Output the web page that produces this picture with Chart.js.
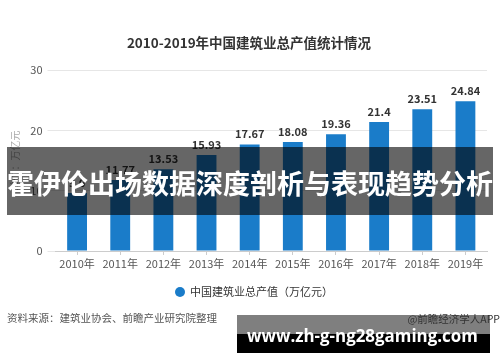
<!DOCTYPE html>
<html>
<head>
<meta charset="utf-8">
<script src="https://cdn.jsdelivr.net/npm/chart.js@4/dist/chart.umd.min.js"></script>
<style>
  html, body { margin: 0; padding: 0; background: #fff; }
  #wrap { width: 500px; height: 362px; position: relative; }
</style>
</head>
<body>
<div id="wrap"><canvas id="chart"></canvas></div>
<script>
// chart data
const years = ['2010年', '2011年', '2012年', '2013年', '2014年', '2015年', '2016年', '2017年', '2018年', '2019年'];
const output = [9.6, 11.77, 13.53, 15.93, 17.67, 18.08, 19.36, 21.4, 23.51, 24.84];
const yTicks = [0, 10, 20, 30];

const FONT = '"Noto Sans CJK SC", "Noto Sans", sans-serif';
const BLUE = '#1a7cc9';

// draw text squeezed to a target width
function fitText(ctx, text, x, y, weight, family, width) {
  ctx.font = weight + ' 20px ' + family;
  const size = 20 * width / ctx.measureText(text).width;
  ctx.font = weight + ' ' + size.toFixed(2) + 'px ' + family;
  ctx.fillText(text, x, y);
}

// value labels, title, legend, source text and the overlays
const decorations = {
  id: 'decorations',
  afterDatasetsDraw(chart) {
    const { ctx } = chart;
    const meta = chart.getDatasetMeta(0);
    ctx.save();
    ctx.fillStyle = '#333';
    ctx.font = 'bold 11px ' + FONT;
    ctx.textAlign = 'center';
    ctx.textBaseline = 'bottom';
    meta.data.forEach((bar, i) => {
      ctx.fillText(String(output[i]), bar.x, bar.y - 5);
    });
    ctx.restore();
  },
  afterDraw(chart) {
    const { ctx } = chart;
    ctx.save();

    // title
    ctx.fillStyle = '#333';
    ctx.font = 'bold 13.5px ' + FONT;
    ctx.textAlign = 'center';
    ctx.textBaseline = 'middle';
    ctx.fillText('2010-2019年中国建筑业总产值统计情况', 249, 43);

    // legend
    ctx.fillStyle = BLUE;
    ctx.beginPath();
    ctx.arc(180, 292, 5, 0, Math.PI * 2);
    ctx.fill();
    ctx.fillStyle = '#333';
    ctx.font = '11px ' + FONT;
    ctx.textAlign = 'left';
    ctx.fillText('中国建筑业总产值（万亿元）', 190, 292);

    // source
    ctx.fillStyle = '#555';
    ctx.font = '10.5px ' + FONT;
    ctx.fillText('资料来源：建筑业协会、前瞻产业研究院整理', 7, 318);

    // banner overlay
    ctx.fillStyle = 'rgba(0,0,0,0.6)';
    ctx.fillRect(7, 147, 486, 68);
    ctx.fillStyle = '#fff';
    ctx.font = 'bold 27px ' + FONT;
    ctx.textAlign = 'center';
    ctx.fillText('霍伊伦出场数据深度剖析与表现趋势分析', 250, 184);

    // footer box
    ctx.fillStyle = 'rgba(0,0,0,0.5)';
    ctx.fillRect(237, 315, 253, 19);
    ctx.fillStyle = '#000';
    ctx.fillRect(237, 334, 253, 19);
    ctx.fillStyle = '#333';
    ctx.font = '10.5px ' + FONT;
    ctx.textAlign = 'right';
    ctx.fillText('@前瞻经济学人APP', 500, 319);
    ctx.fillStyle = '#fff';
    ctx.textAlign = 'left';
    ctx.textBaseline = 'alphabetic';
    fitText(ctx, 'www.zh-g-ng28gaming.com', 247, 342, 'bold', '"Open Sans", sans-serif', 231);

    ctx.restore();
  }
};

new Chart(document.getElementById('chart'), {
  type: 'bar',
  data: {
    labels: years,
    datasets: [{
      label: '中国建筑业总产值（万亿元）',
      data: output,
      backgroundColor: BLUE,
      categoryPercentage: 1,
      barPercentage: 0.46
    }]
  },
  options: {
    responsive: true,
    maintainAspectRatio: false,
    animation: false,
    layout: { padding: { top: 70, right: 13, left: 0, bottom: 0 } },
    plugins: {
      legend: { display: false },
      tooltip: { enabled: false }
    },
    scales: {
      x: {
        afterFit(scale) { scale.height = 111; },
        grid: { offset: false, drawOnChartArea: false, tickLength: 4, color: '#ccc' },
        border: { color: '#ccc' },
        ticks: { color: '#555', font: { size: 11, family: FONT }, padding: 2 }
      },
      y: {
        min: 0,
        max: 30,
        afterFit(scale) { scale.width = 55.5; },
        afterBuildTicks(scale) { scale.ticks = yTicks.map(v => ({ value: v })); },
        grid: { color: '#e6e6e6', tickLength: 8, drawTicks: true },
        border: { display: false },
        ticks: { color: '#555', font: { size: 11, family: FONT }, padding: 5 },
        title: { display: true, text: '单位：万亿元', color: '#aaa', font: { size: 10, family: FONT }, padding: { top: 9, bottom: 0 } }
      }
    }
  },
  plugins: [decorations]
});
</script>
</body>
</html>
